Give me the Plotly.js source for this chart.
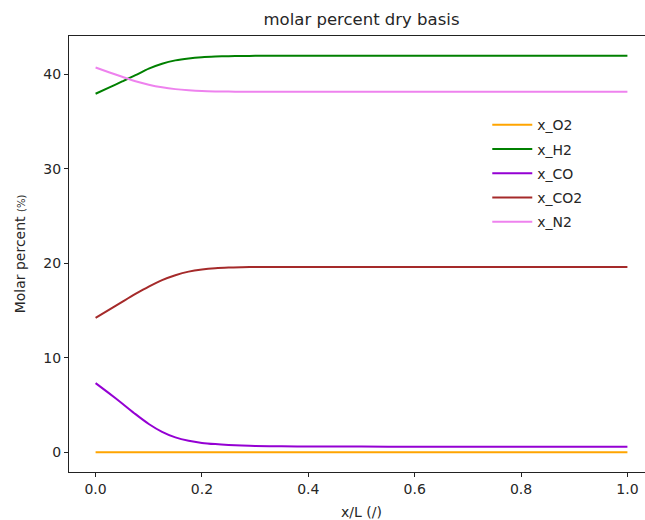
<!DOCTYPE html>
<html>
<head>
<meta charset="utf-8">
<script src="https://cdn.plot.ly/plotly-3.0.1.min.js"></script>
<style>
  html, body { margin: 0; padding: 0; overflow: hidden; background: #fff; }
  #chart { width: 660px; height: 520px; }
</style>
</head>
<body>
<div id="chart"></div>
<script>
// Data
const xL   = [0, 0.025, 0.05, 0.075, 0.1, 0.125, 0.15, 0.175, 0.2, 0.225, 0.25, 0.275, 0.3, 0.35, 0.4, 0.5, 0.6, 0.7, 0.8, 0.9, 1.0];
const xO2  = [0, 0, 0, 0, 0, 0, 0, 0, 0, 0, 0, 0, 0, 0, 0, 0, 0, 0, 0, 0, 0];
const xH2  = [37.92, 38.57, 39.22, 39.88, 40.58, 41.1, 41.45, 41.66, 41.79, 41.86, 41.9, 41.92, 41.93, 41.93, 41.93, 41.93, 41.93, 41.93, 41.93, 41.93, 41.93];
const xCO  = [7.3, 6.24, 5.15, 4.02, 2.98, 2.15, 1.56, 1.2, 0.98, 0.85, 0.76, 0.7, 0.66, 0.62, 0.6, 0.59, 0.58, 0.58, 0.58, 0.58, 0.58];
const xCO2 = [14.2, 15.05, 15.9, 16.74, 17.52, 18.2, 18.72, 19.1, 19.33, 19.47, 19.54, 19.57, 19.59, 19.6, 19.6, 19.6, 19.6, 19.6, 19.6, 19.6, 19.6];
const xN2  = [40.7, 40.2, 39.72, 39.25, 38.88, 38.6, 38.41, 38.29, 38.21, 38.17, 38.15, 38.14, 38.13, 38.13, 38.13, 38.13, 38.13, 38.13, 38.13, 38.13, 38.13];
const seriesNames = ['x_O2', 'x_H2', 'x_CO', 'x_CO2', 'x_N2'];
const xTicks = [0, 0.2, 0.4, 0.6, 0.8, 1.0];
const xTickText = ['0.0', '0.2', '0.4', '0.6', '0.8', '1.0'];
const yTicks = [0, 10, 20, 30, 40];

const seriesData = [xO2, xH2, xCO, xCO2, xN2];
const colors = ['#ffa500', '#008000', '#9400d3', '#a52a2a', '#ee82ee'];

const traces = seriesData.map((ys, i) => ({
  x: xL, y: ys, type: 'scatter', mode: 'lines', name: seriesNames[i],
  legendgroup: 'g' + i,
  line: { color: colors[i], width: 2, shape: 'spline', smoothing: 0.8 }
}));

const font = { family: 'DejaVu Sans', color: '#262626' };

const layout = {
  width: 660, height: 520,
  paper_bgcolor: '#fff', plot_bgcolor: '#fff',
  margin: { l: 69, r: 6, t: 36, b: 48 },
  font: Object.assign({ size: 14 }, font),
  title: { text: 'molar percent dry basis', font: Object.assign({ size: 16.5 }, font),
           xref: 'paper', x: 0.5, xanchor: 'center', yref: 'container', y: 1 - 19/520, yanchor: 'middle' },
  xaxis: {
    range: [-0.05, 1.05], tickvals: xTicks, ticktext: xTickText,
    ticks: 'outside', ticklen: 4, tickwidth: 1, tickcolor: '#222',
    showline: true, linecolor: '#222', linewidth: 1, mirror: true,
    showgrid: false, zeroline: false,
    tickfont: Object.assign({ size: 14 }, font),
    title: { text: 'x/L (/)', font: Object.assign({ size: 14 }, font), standoff: 12 }
  },
  yaxis: {
    range: [-2.1, 44.03], tickvals: yTicks,
    ticks: 'outside', ticklen: 4, tickwidth: 1, tickcolor: '#222',
    showline: true, linecolor: '#222', linewidth: 1, mirror: true,
    showgrid: false, zeroline: false,
    tickfont: Object.assign({ size: 14 }, font),
    title: { text: "Molar percent <span style='font-size:10px'>(%)</span>", font: Object.assign({ size: 14 }, font), standoff: 14 }
  },
  legend: {
    x: 0.715, xanchor: 'left', y: 0.832, yanchor: 'top',
    bgcolor: 'rgba(255,255,255,0)', borderwidth: 0,
    font: Object.assign({ size: 14 }, font),
    itemwidth: 40,
    tracegroupgap: 3
  },
  showlegend: true
};

Plotly.newPlot('chart', traces, layout, { displayModeBar: false, staticPlot: true });
</script>
</body>
</html>
